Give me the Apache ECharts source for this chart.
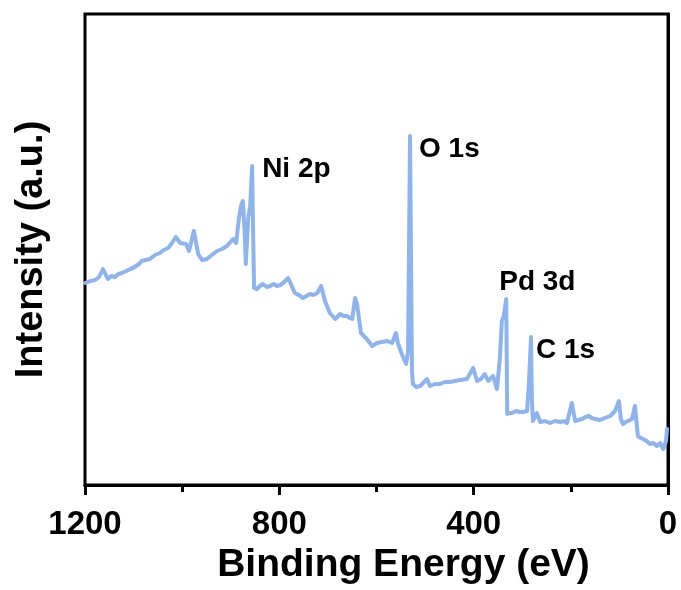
<!DOCTYPE html>
<html>
<head>
<meta charset="utf-8">
<title>XPS survey spectrum</title>
<script src="https://cdn.jsdelivr.net/npm/echarts@6/dist/echarts.min.js"></script>
<style>
  html, body { margin: 0; padding: 0; background: #ffffff; }
  #chart { width: 681px; height: 590px; }
</style>
</head>
<body>
<div id="chart"></div>
<script>
// Survey scan: binding energy (eV) and intensity (a.u.)
const bindingEnergy = [
  1200, 1189, 1179, 1171, 1163, 1153, 1146, 1138, 1131, 1124, 1115, 1107, 1101, 1095, 1089, 1083,
  1075, 1066, 1056, 1046, 1038, 1029, 1021, 1013, 1004, 992, 986, 980, 976, 972, 967, 959, 949,
  939, 928, 918, 908, 895, 889, 883, 879, 875, 871, 869, 864, 860, 856, 854, 852, 846, 840, 834,
  826, 819, 812, 805, 798, 792, 782, 778, 768, 760, 751, 744, 737, 730, 722, 714, 706, 696,
  685, 675, 668, 661, 655, 650, 644, 640, 632, 620, 609, 599, 590, 578, 568, 560, 556, 548, 539,
  535, 531, 527, 525, 518, 510, 496, 490, 480, 469, 459, 449, 438, 428, 414, 401, 393, 385, 377,
  370, 360, 352, 346, 342, 338, 333, 331, 326, 321, 313, 305, 298, 290, 286, 282, 280, 278, 270,
  263, 253, 243, 232, 222, 214, 208, 198, 191, 184, 177, 170, 163, 157, 150, 140, 130, 119, 109,
  105, 101, 97, 93, 87, 82, 74, 68, 62, 56, 51, 44, 37, 30, 23, 16, 10, 4, 2
];
const intensity = [
  202, 204, 205, 208, 216, 206, 209, 208, 211, 212, 214, 216, 217, 219, 221, 224,
  225, 226, 230, 232, 235, 237, 242, 248, 242, 241, 234, 246, 254, 244, 231, 225, 226,
  230, 234, 236, 239, 246, 242, 267, 279, 284, 249, 221, 267, 279, 319, 254, 197, 196, 199, 201,
  198, 199, 201, 199, 200, 202, 207, 209, 192, 190, 187, 189, 191, 190, 192, 199, 184, 172,
  166, 171, 169, 169, 167, 166, 187, 181, 152, 146, 139, 142, 143, 144, 142, 152, 142, 131, 121,
  134, 349, 114, 101, 98, 99, 106, 99, 101, 101, 103, 103, 104, 105, 106, 117, 104, 106, 111,
  104, 109, 96, 127, 164, 169, 186, 71, 72, 72, 74, 73, 73, 74, 104, 148, 84, 64, 72,
  63, 64, 62, 64, 63, 64, 62, 82, 64, 65, 66, 68, 69, 67, 66, 65, 67, 69, 74,
  79, 84, 66, 61, 63, 64, 66, 79, 49, 47, 46, 44, 41, 42, 39, 42, 36, 44, 56
];

// Core-level peak annotations
const peakNames = ['Ni 2p', 'O 1s', 'Pd 3d', 'C 1s'];
const peakEnergy = [856, 531, 333, 282];
const peakIntensity = [319, 349, 186, 148];
const peakLabelOffset = [[10, 3], [9, 13], [-7, -17], [5, 13]];

const xTicks = { min: 0, max: 1200, interval: 400 };

const chart = echarts.init(document.getElementById('chart'), null, { renderer: 'canvas' });

const spectrum = bindingEnergy.map((e, i) => [e, intensity[i]]);
const peaks = peakNames.map((n, i) => ({
  value: [peakEnergy[i], peakIntensity[i]],
  name: n,
  label: { offset: peakLabelOffset[i] }
}));

const font = '"Liberation Sans", Arial, Helvetica, sans-serif';

chart.setOption({
  animation: false,
  backgroundColor: '#ffffff',
  grid: {
    left: 85, right: 13, top: 14, bottom: 105,
    show: true,
    borderColor: '#000000',
    borderWidth: 3,
    backgroundColor: 'transparent'
  },
  xAxis: {
    type: 'value',
    inverse: true,
    min: xTicks.min,
    max: xTicks.max,
    interval: xTicks.interval,
    name: 'Binding Energy (eV)',
    nameLocation: 'middle',
    nameGap: 60,
    nameTextStyle: {
      fontFamily: font, fontWeight: 'bold', fontSize: 39, color: '#000000',
      padding: [0, 0, 0, 54]
    },
    axisLine: { show: true, onZero: false, lineStyle: { color: '#000000', width: 3 } },
    axisTick: { show: true, inside: false, length: 10, lineStyle: { color: '#000000', width: 3 } },
    minorTick: { show: true, splitNumber: 2, length: 7, lineStyle: { color: '#000000', width: 3 } },
    axisLabel: {
      fontFamily: font, fontWeight: 'bold', fontSize: 33, color: '#000000', margin: 23,
      formatter: v => String(v)
    },
    splitLine: { show: false },
    minorSplitLine: { show: false }
  },
  yAxis: {
    type: 'value',
    min: 0,
    max: 471,
    name: 'Intensity (a.u.)',
    nameLocation: 'middle',
    nameGap: 34,
    nameRotate: 90,
    nameTextStyle: { fontFamily: font, fontWeight: 'bold', fontSize: 38, color: '#000000' },
    axisLine: { show: true, lineStyle: { color: '#000000', width: 3 } },
    axisTick: { show: false },
    axisLabel: { show: false },
    splitLine: { show: false }
  },
  series: [
    {
      type: 'line',
      data: spectrum,
      showSymbol: false,
      symbol: 'none',
      lineStyle: { color: '#8db4ec', width: 4, join: 'round', cap: 'round' },
      silent: true,
      z: 2
    },
    {
      type: 'scatter',
      data: peaks,
      symbolSize: 0,
      silent: true,
      z: 3,
      itemStyle: { opacity: 1, color: 'transparent' },
      label: {
        show: true,
        position: 'right',
        distance: 0,
        formatter: p => p.name,
        fontFamily: font,
        fontWeight: 'bold',
        fontSize: 28,
        color: '#000000'
      }
    }
  ]
});
</script>
</body>
</html>
